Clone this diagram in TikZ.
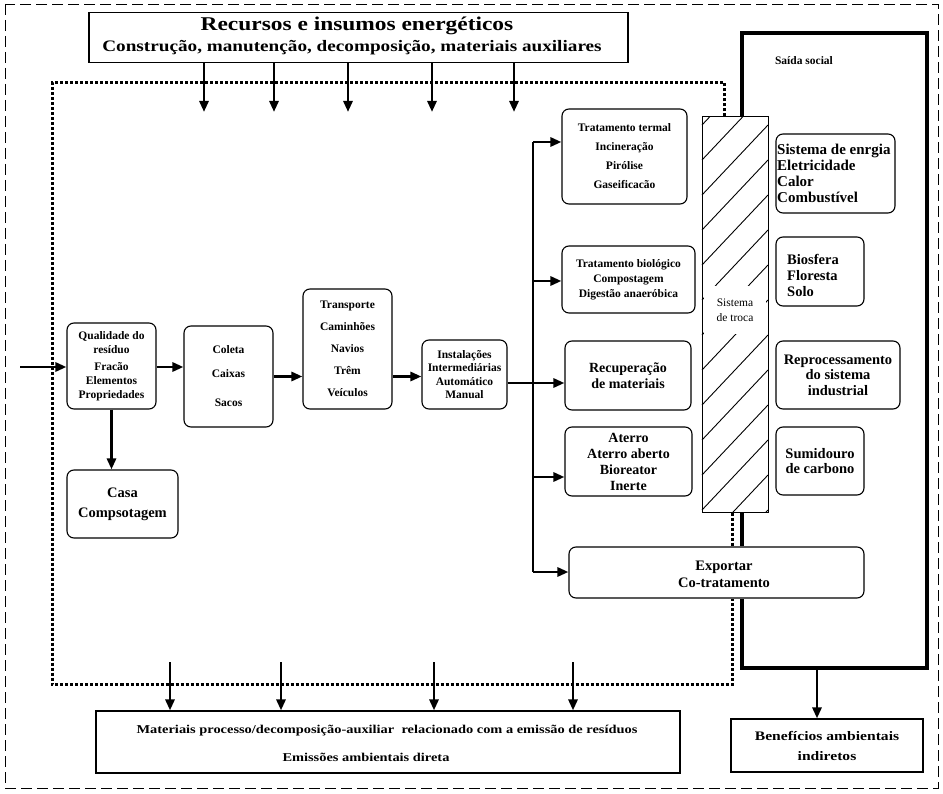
\documentclass[tikz,border=0pt]{standalone}
\usepackage{fontspec}
\setmainfont{Liberation Serif}
\newfontfamily\widefont{Liberation Serif}[FakeStretch=1.2]
\usepackage{tikz}
\usetikzlibrary{arrows.meta}
\newcommand\fsz[2]{\fontsize{#1}{#2}\selectfont}

\begin{document}
\begin{tikzpicture}[x=1pt, y=-1pt,
    box/.style={draw, rounded corners=7pt, line width=1.1pt, inner sep=0pt, align=center, font=\bfseries\fsz{11.5}{15}},
    plainbox/.style={draw, line width=1.1pt, inner sep=0pt, align=center},
    arr/.style={-{Triangle[length=11pt,width=9pt]}, line width=2.8pt},
    dotline/.style={line width=3pt, dash pattern=on 3pt off 2pt},
    frame/.style={line width=4.8pt}]
    \useasboundingbox (0,0) rectangle (943,794);

    % outer dashed border
    \draw[line width=0.9pt, dash pattern=on 11pt off 5pt] (5,4) rectangle (938,788);

    % resources on top
    \node[plainbox, minimum width=539pt, minimum height=50pt] (top) at (358.5,37.5) {};
    \node[font=\widefont\bfseries\fsz{19.5}{20}] (title) at (357,26) {Recursos e insumos energéticos};
    \node[font=\widefont\bfseries\fsz{16}{17}] (subtitle) at (352,48) {Construção, manutenção, decomposição, materiais auxiliares};

    % chain of collection
    \node[box, minimum width=89pt, minimum height=86pt, font=\bfseries\fsz{11.5}{14}] (qual) at (111.5,366) {Qualidade do\\resíduo\\[3pt]Fracão\\Elementos\\Propriedades};
    \node[box, minimum width=111pt, minimum height=68pt, font=\bfseries\fsz{14.5}{20}] (casa) at (122.5,504) {Casa\\Compsotagem};
    \node[box, minimum width=89pt, minimum height=101pt, font=\bfseries\fsz{11.5}{24}] (coleta) at (228.5,376.5) {Coleta\\Caixas\\[5pt]Sacos};
    \node[box, minimum width=89pt, minimum height=120pt, font=\bfseries\fsz{11.5}{22}] (transp) at (347.5,349) {Transporte\\Caminhões\\Navios\\Trêm\\Veículos};
    \node[box, minimum width=85pt, minimum height=69pt, font=\bfseries\fsz{11.5}{13.5}] (instal) at (464.5,374.5) {Instalações\\Intermediárias\\Automático\\Manual};

    % treatment
    \node[box, minimum width=125pt, minimum height=95pt, font=\bfseries\fsz{11.5}{19}] (termal) at (624.5,156.5) {Tratamento termal\\Incineração\\Pirólise\\Gaseificacão};
    \node[box, minimum width=133pt, minimum height=67pt, font=\bfseries\fsz{11.5}{15}] (bio) at (628.5,279.5) {Tratamento biológico\\Compostagem\\Digestão anaeróbica};
    \node[box, minimum width=126pt, minimum height=69pt, font=\bfseries\fsz{14}{15.5}] (recup) at (628,375.5) {Recuperação\\de materiais};
    \node[box, minimum width=127pt, minimum height=69pt, font=\bfseries\fsz{14}{16}] (aterro) at (628.5,461.5) {Aterro\\Aterro aberto\\Bioreator\\Inerte};
    \node[box, minimum width=295pt, minimum height=51pt] (export) at (716.5,572.5) {};
    \node[font=\bfseries\fsz{14.5}{17}, align=center] (exportlbl) at (724,574.5) {Exportar\\Co-tratamento};

    % exchange system
    \node[draw, line width=1pt, minimum width=66pt, minimum height=395pt, inner sep=0pt] (troca) at (735,314.5) {};
    \begin{scope}
        \clip (troca.south west) rectangle (troca.north east);
        \foreach \k in {0,...,13}
            \draw[line width=0.9pt] (702,125+\k*35) -- ++(66,-70);
    \end{scope}
    \node[fill=white, minimum width=62pt, minimum height=48pt, inner sep=0pt, align=center, font=\fsz{11.5}{15}] (trocalbl) at (735,310.5) {Sistema\\de troca};

    % social output
    \node[font=\bfseries\fsz{11.5}{12}] (social) at (804,61) {Saída social};
    \node[box, minimum width=119pt, minimum height=79pt] (energia) at (835.5,173.5) {};
    \node[anchor=west, inner sep=0pt, align=left, font=\bfseries\fsz{15}{16}] (energialbl) at (777,173) {Sistema de enrgia\\Eletricidade\\Calor\\Combustível};
    \node[box, minimum width=88pt, minimum height=69pt] (biosf) at (820,271.5) {};
    \node[anchor=west, inner sep=0pt, align=left, font=\bfseries\fsz{14.5}{16}] (biosflbl) at (787,275) {Biosfera\\Floresta\\Solo};
    \node[box, minimum width=124pt, minimum height=68pt, font=\bfseries\fsz{14.5}{15.5}] (repro) at (838,375) {Reprocessamento\\do sistema\\industrial};
    \node[box, minimum width=88pt, minimum height=68pt, font=\bfseries\fsz{14.5}{15.5}] (sumid) at (820,461) {Sumidouro\\de carbono};

    % emissions and benefits
    \node[plainbox, minimum width=584pt, minimum height=62pt] (bot) at (388,742) {};
    \node[font=\widefont\bfseries\fsz{12}{13}] (botlbl1) at (387,731) {Materiais processo/decomposição-auxiliar\ \ relacionado com a emissão de resíduos};
    \node[font=\widefont\bfseries\fsz{12}{13}] (botlbl2) at (366,757) {Emissões ambientais direta};
    \node[plainbox, minimum width=192pt, minimum height=53pt, font=\widefont\bfseries\fsz{13}{20}] (benef) at (827,745.5) {Benefícios ambientais\\indiretos};

    % system boundaries
    \draw[dotline] (troca.north -| 724,0) -- (724,83) -- (52,83) -- (52,684) -- (732,684) -- (export.south -| 732,0);
    \draw[dotline] (troca.south -| 732,0) -- (export.north -| 732,0);
    \draw[frame] (troca.north -| 742,0) -- (742,33) -- (927,33) -- (927,668) -- (742,668) -- (export.south -| 742,0);
    \draw[frame] (troca.south -| 742,0) -- (export.north -| 742,0);

    % flows
    \coordinate (src) at (20,367);
    \draw[arr] (src) -- (src -| qual.west);
    \draw[arr] (qual.east |- src) -- (coleta.west |- src);
    \draw[arr] (qual.south) -- (qual.south |- casa.north);
    \draw[arr] (coleta.east) -- (coleta.east -| transp.west);
    \draw[arr] (coleta.east -| transp.east) -- (coleta.east -| instal.west);

    \coordinate (b1) at (533,142);
    \coordinate (b2) at (533,281);
    \coordinate (b3) at (533,383);
    \coordinate (b4) at (533,477);
    \coordinate (b5) at (533,572);
    \draw[line width=1.5pt] (b1) -- (b5);
    \foreach \b/\n in {b1/termal, b2/bio, b4/aterro, b5/export}
        \draw[arr] (\b) -- (\b -| \n.west);
    \draw[arr] (instal.east |- b3) -- (b3 -| recup.west);

    \foreach \x [count=\i] in {204,274,348,432,514} {
        \coordinate (res\i) at (\x,62.5);
        \draw[arr] (res\i) -- ++(0,49.5);
    }
    \foreach \x [count=\i] in {170,281,434,573} {
        \coordinate (emi\i) at (\x,662);
        \draw[arr] (emi\i) -- (emi\i |- bot.north);
    }
    \coordinate (fb) at (817,668);
    \draw[arr] (fb) -- (fb |- benef.north);
\end{tikzpicture}
\end{document}
